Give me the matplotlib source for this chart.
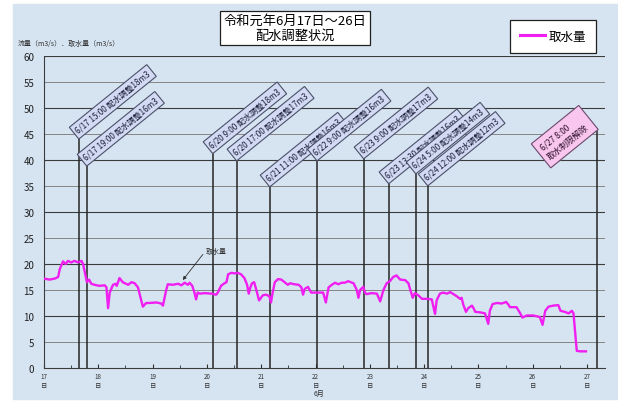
import matplotlib.pyplot as plt
from matplotlib.patches import Rectangle
from matplotlib.ticker import MultipleLocator

plt.rcParams['font.family'] = ['Noto Sans CJK JP', 'DejaVu Sans']

# 取水量 (m3/s) ... 図から読み取った値 (横軸は日)
day = [17.00, 17.10, 17.20, 17.26, 17.29, 17.35, 17.40, 17.44, 17.50, 17.56,
       17.63, 17.69, 17.72, 17.75, 17.79, 17.83, 17.87, 17.93, 18.02, 18.12,
       18.15, 18.18, 18.21, 18.27, 18.32, 18.34, 18.39, 18.45, 18.55, 18.61,
       18.67, 18.73, 18.79, 18.82, 18.88, 18.94, 19.07, 19.16, 19.19, 19.22,
       19.25, 19.28, 19.37, 19.47, 19.53, 19.59, 19.65, 19.68, 19.73, 19.77,
       19.80, 19.83, 19.87, 19.96, 20.08, 20.17, 20.20, 20.26, 20.31, 20.36,
       20.39, 20.45, 20.51, 20.57, 20.63, 20.69, 20.74, 20.77, 20.80, 20.83,
       20.87, 20.91, 20.96, 21.03, 21.09, 21.15, 21.18, 21.21, 21.25, 21.31,
       21.37, 21.43, 21.49, 21.53, 21.61, 21.69, 21.74, 21.77, 21.80, 21.86,
       21.92, 22.01, 22.08, 22.14, 22.19, 22.24, 22.30, 22.36, 22.42, 22.48,
       22.54, 22.60, 22.70, 22.76, 22.79, 22.82, 22.88, 22.91, 22.94, 23.03,
       23.13, 23.19, 23.25, 23.31, 23.37, 23.43, 23.49, 23.56, 23.65, 23.71,
       23.74, 23.79, 23.83, 23.89, 23.96, 24.05, 24.14, 24.20, 24.23, 24.29,
       24.35, 24.42, 24.48, 24.54, 24.60, 24.66, 24.69, 24.72, 24.77, 24.81,
       24.88, 24.91, 24.94, 25.03, 25.12, 25.18, 25.21, 25.26, 25.34, 25.43,
       25.51, 25.55, 25.58, 25.70, 25.77, 25.81, 25.89, 26.01, 26.13, 26.18,
       26.23, 26.29, 26.38, 26.47, 26.51, 26.59, 26.66, 26.72, 26.75, 26.78,
       26.81, 26.87, 26.98]
flow = [17.2, 17.0, 17.2, 17.5, 19.0, 20.5, 20.0, 20.6, 20.3, 20.6,
        20.3, 20.6, 20.0, 18.5, 16.5, 17.0, 16.2, 16.0, 15.8, 15.9,
        15.5, 11.5, 14.5, 16.0, 16.2, 15.8, 17.3, 16.5, 16.0, 16.5,
        16.3, 15.5, 13.0, 11.8, 12.5, 12.5, 12.6, 12.4, 12.0, 13.5,
        15.0, 16.1, 16.0, 16.2, 15.9, 16.4, 16.0, 16.4, 15.8, 14.5,
        13.2, 14.5, 14.3, 14.4, 14.3, 14.1, 14.5, 15.8, 16.2, 16.5,
        18.0, 18.3, 18.2, 18.3, 18.0, 17.3, 16.0, 14.3, 15.5, 16.3,
        16.5, 15.0, 13.0, 14.0, 14.1, 13.8, 12.6, 14.5, 16.5, 17.1,
        17.0, 16.5, 16.0, 16.3, 16.1, 16.0, 15.5, 14.1, 15.2, 15.6,
        14.5, 14.5, 14.5, 14.5, 12.6, 15.5, 16.0, 16.4, 16.1, 16.4,
        16.4, 16.7, 16.3, 15.0, 13.5, 15.0, 15.6, 14.5, 14.2, 14.4,
        14.3, 12.8, 15.0, 16.3, 16.7, 17.5, 17.8, 17.0, 16.9, 16.3,
        15.2, 13.5, 14.4, 14.0, 13.3, 13.3, 13.2, 10.4, 13.0, 14.3,
        14.5, 14.3, 14.6, 14.2, 13.8, 13.3, 13.5, 12.2, 10.8, 11.5,
        12.0, 11.5, 10.8, 10.7, 10.5, 8.5, 11.0, 12.3, 12.5, 12.4,
        12.7, 12.2, 11.7, 11.7, 10.5, 9.7, 10.1, 10.1, 9.8, 8.3,
        11.0, 11.8, 12.0, 12.1, 11.0, 10.8, 10.5, 11.0, 10.5, 7.0,
        3.3, 3.2, 3.2]

# 配水調整の時点 (図上の位置) と吹き出し
event_day = [17.645, 17.79, 20.11, 20.55, 21.16, 22.03, 22.89, 23.35, 23.85, 24.07]
event_top = [44.0, 38.8, 41.2, 39.8, 34.8, 39.8, 40.2, 35.4, 37.3, 35.0]
event_text = ['6/17 15:00 配水調整18m3', '6/17 19:00 配水調整16m3',
              '6/20 9:00 配水調整18m3', '6/20 17:00 配水調整17m3',
              '6/21 11:00 配水調整16m3', '6/22 9:00 配水調整16m3',
              '6/23 9:00 配水調整17m3', '6/23 13:30 配水調整16m3',
              '6/24 5:00 配水調整14m3', '6/24 12:00 配水調整12m3']
release_day = 27.18
release_top = 45.6
release_text = '6/27 8:00\n取水制限解除'

tick_days = list(range(17, 28))

fig = plt.figure(figsize=(6.18, 4.06), dpi=100, facecolor='white')
fig.add_artist(Rectangle((13 / 618, 6 / 406), 1 - 13 / 618, 1 - 11 / 406,
                         transform=fig.transFigure, color='#d6e4f2', zorder=-10))
ax = fig.add_axes([44 / 618, 1 - 369 / 406, 561 / 618, 312 / 406])
ax.set_facecolor('none')

ax.set_xlim(17, 27.33)
ax.set_ylim(0, 60)

# 横線
for v in range(5, 61, 5):
    dark = v % 10 == 0
    ax.axhline(v, color='#3c3c3c' if dark else '#858585', lw=0.8 if dark else 0.7, zorder=1)

ax.plot(day, flow, color='#f01ef0', lw=1.7, zorder=4, label='取水量')

# 配水調整の縦線と吹き出し
for d, t, s in zip(event_day, event_top, event_text):
    ax.plot([d, d], [0, t], color='#262626', lw=1.1, zorder=3)
    ax.annotate(s, xy=(d, t), xytext=(0.2, 3.2), textcoords='offset points',
                rotation=39, rotation_mode='anchor', ha='left', va='bottom',
                fontsize=5.8, color='#1c1c38', zorder=5,
                bbox=dict(boxstyle='square,pad=0.38', fc='#d2dbf3', ec='#4a5068', lw=0.8))
ax.plot([release_day, release_day], [0, release_top], color='#262626', lw=1.1, zorder=3)
ax.annotate(release_text, xy=(release_day, release_top), xytext=(-4.5, 1.6),
            textcoords='offset points', rotation=39, rotation_mode='anchor',
            ha='right', va='bottom', multialignment='left', fontsize=6,
            color='#301030', zorder=5, linespacing=1.3,
            bbox=dict(boxstyle='square,pad=0.65', fc='#f8c6ee', ec='#6a4a6a', lw=0.8))

# 取水量の引き出し線
ax.annotate('取水量', xy=(19.54, 16.7), xytext=(19.98, 21.8), fontsize=5,
            ha='left', va='bottom', color='#303030',
            arrowprops=dict(arrowstyle='-|>', color='#303030', lw=0.6,
                            mutation_scale=5, relpos=(1, 0), shrinkA=0, shrinkB=1,
                            connectionstyle='angle,angleA=0,angleB=52,rad=0'))

ax.spines['top'].set_visible(False)
ax.spines['right'].set_visible(False)
ax.spines['left'].set_color('#3c3c3c')
ax.spines['bottom'].set_color('#3c3c3c')

ax.yaxis.set_major_locator(MultipleLocator(5))
ax.tick_params(axis='y', length=0, labelsize=7, pad=7, colors='#202020')
ax.set_xticks(tick_days)
ax.set_xticklabels([f'{d}\n日' for d in tick_days], fontsize=4.5, linespacing=1.2)
ax.xaxis.set_minor_locator(MultipleLocator(0.5))
ax.tick_params(axis='x', which='major', direction='in', length=3, pad=3, colors='#303030')
ax.tick_params(axis='x', which='minor', direction='in', length=2, colors='#303030')

fig.text(319 / 618, 1 - 394 / 406, '6月', fontsize=5, ha='center', va='center', color='#303030')
fig.text(18 / 618, 1 - 44 / 406, '流量（m3/s）．取水量（m3/s）', fontsize=5,
         ha='left', va='center', color='#303030')

fig.text(295 / 618, 1 - 29 / 406, '令和元年6月17日～26日\n配水調整状況', fontsize=9.5,
         ha='center', va='center', linespacing=1.15,
         bbox=dict(boxstyle='square,pad=0.25', fc='white', ec='#202020', lw=0.9))

leg = ax.legend(loc='center', bbox_to_anchor=(553 / 618, 1 - 37 / 406),
                bbox_transform=fig.transFigure, fontsize=9, frameon=True,
                fancybox=False, edgecolor='#202020', framealpha=1,
                handlelength=2.0, handletextpad=0.3, borderpad=0.8)
leg.get_frame().set_linewidth(0.9)
for h in leg.get_lines():
    h.set_linewidth(2.2)

fig.savefig('out.png', dpi=100, facecolor=fig.get_facecolor())
